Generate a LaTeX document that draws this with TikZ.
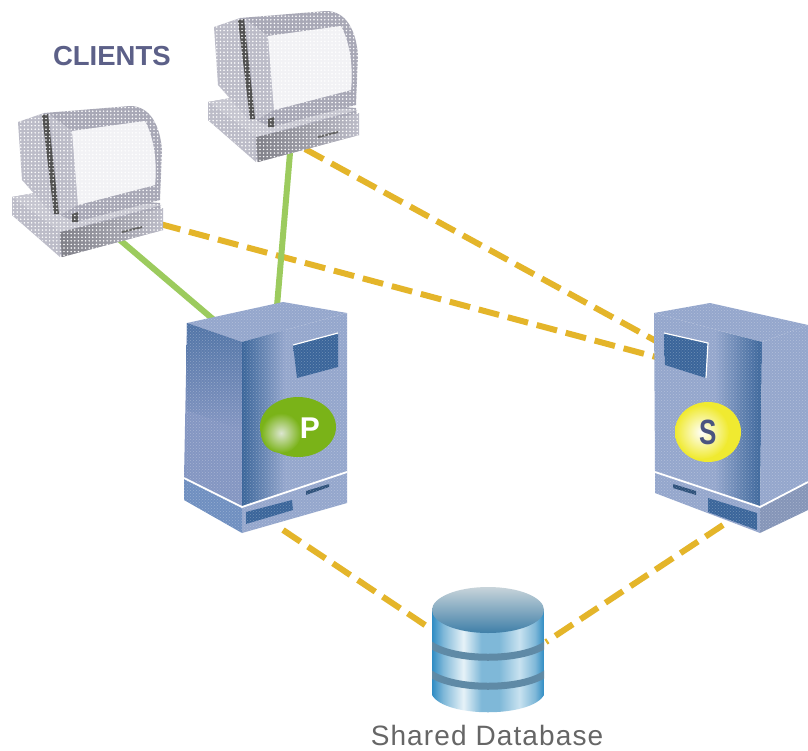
\documentclass[tikz,border=0pt]{standalone}
\usepackage{fontspec}
\setmainfont{Liberation Sans}
\usetikzlibrary{patterns}
\definecolor{dbA}{HTML}{2F8CC4}
\definecolor{dbB}{HTML}{7FB8D8}
\definecolor{dbC}{HTML}{E6F2F8}
\definecolor{dbD}{HTML}{C8E2F0}
\pgfdeclarehorizontalshading{dbbody}{100bp}{
  color(0bp)=(dbA); color(25bp)=(dbA); color(30bp)=(dbB); color(39bp)=(dbC);
  color(47bp)=(dbB); color(55bp)=(dbB); color(64bp)=(dbD); color(71bp)=(dbB); color(75bp)=(dbA); color(100bp)=(dbA)}
\definecolor{dashcol}{HTML}{E4B52A}
\definecolor{greencol}{HTML}{9CCB5E}
\definecolor{pcA}{HTML}{BCBCC8}
\definecolor{pcB}{HTML}{A8A8B6}
\definecolor{pcC}{HTML}{808088}
\definecolor{pcS}{HTML}{F2F2F5}
\definecolor{srvA}{HTML}{8496C2}
\definecolor{srvB}{HTML}{94A6CC}
\definecolor{srvC}{HTML}{3A659A}
\definecolor{srvD}{HTML}{6F8FC0}
\definecolor{capcol}{HTML}{5C6088}
\definecolor{dbband}{HTML}{5F8AA6}
\definecolor{dbtopin}{HTML}{3F7FA8}
\definecolor{dbtopout}{HTML}{C8D4DA}
\definecolor{pgreenout}{HTML}{7AB318}
\definecolor{pgreenin}{HTML}{DCE6D0}
\definecolor{syel}{HTML}{F0EA30}
\definecolor{smark}{HTML}{4A5480}
\tikzset{
  every node/.style={inner sep=0pt,outer sep=0pt},
  softdots/.style={pattern=crosshatch dots,pattern color=white,opacity=.28},
  sharedlink/.style={draw=dashcol,line width=6pt,dash pattern=on 21pt off 9pt},
  directlink/.style={draw=greencol,line width=6pt},
  whiteedge/.style={draw=white,line width=1.8pt},
  captionA/.style={font=\bfseries\fontsize{27.5}{28}\selectfont,text=capcol},
  captionB/.style={font=\addfontfeature{LetterSpace=4}\fontsize{28}{28}\selectfont,text=black!60,anchor=base},
}
\newcommand{\clientbox}{%
  % base
  \fill[pcB] (12,197)--(35,193)--(160,203)--(163,230)--(62,257)--(12,215)--cycle;
  \shade[left color=pcC,right color=pcA] (60,232)--(163,208)--(163,230)--(62,257)--cycle;
  \fill[pcA] (12,197)--(60,232)--(60,257)--(12,215)--cycle;
  \fill[pcA!85!white] (35,193)--(162,205)--(60,232)--(12,197)--cycle;
  % cabinet
  \fill[pcA] (18,122)--(44,113)--(56,218)--(22,180)--cycle;
  \fill[pcB] (44,113)--(130,106) .. controls (150,106) and (160,125) .. (162,150)--(160,200)--(75,222)--(60,215)--cycle;
  \fill[pcA] (72,131)--(145,121) .. controls (155,140) and (157,165) .. (155,185)--(78,205)--(60,215)--(49,114)--cycle;
  \fill[black!68] (42,115)--(48,114)--(59,214)--(54,214)--cycle;
  % screen
  \fill[pcS] (72,131)--(145,121) .. controls (155,140) and (157,165) .. (155,185)--(78,205)--cycle;
  % ports
  \fill[black!60] (122,231)--(142,226)--(142,228)--(122,233)--cycle;
  \fill[black!65] (72,214)--(78,212)--(78,222)--(72,222)--cycle;
  % halftone
  \begin{scope}
    \clip (18,122)--(44,113)--(130,106) .. controls (150,106) and (160,125) .. (162,150)--(162,205)--(163,230)--(62,257)--(12,215)--(12,197)--(35,193)--(22,180)--cycle;
    \fill[white] \foreach \a in {0,...,44}{\foreach \b in {0,...,42}{
       (10+3.6*\a,104+3.6*\b) circle[radius=0.85pt]}};
  \end{scope}
}
\begin{document}
\begin{tikzpicture}[x=1pt,y=-1pt]
\useasboundingbox (0,0) rectangle (808,750);
\fill[white] (0,0) rectangle (808,750);

% connector end points
\coordinate (clientOneShared) at (160,224);
\coordinate (clientTwoShared) at (305,149);
\coordinate (clientOneDirect) at (120,240);
\coordinate (clientTwoDirect) at (290,153);
\coordinate (primaryTopA) at (214,320);
\coordinate (primaryTopB) at (277,306);
\coordinate (secondaryTopA) at (656,357);
\coordinate (secondaryTopB) at (656,341);
\coordinate (primaryBottom) at (283,530);
\coordinate (secondaryBottom) at (723,525);
\coordinate (dbLeft) at (431,629);
\coordinate (dbRight) at (546,642);

% connectors
\draw[sharedlink] (clientOneShared) -- (secondaryTopA);
\draw[sharedlink] (clientTwoShared) -- (secondaryTopB);
\draw[directlink] (clientOneDirect) -- (primaryTopA);
\draw[directlink] (clientTwoDirect) -- (primaryTopB);
\draw[sharedlink] (primaryBottom) -- (dbLeft);
\draw[sharedlink] (secondaryBottom) -- (dbRight);

% clients
\begin{scope}\clientbox\end{scope}
\begin{scope}[shift={(196,-95)}]\clientbox\end{scope}
\node[captionA,anchor=base west] (clientsLabel) at (53,65) {CLIENTS};

% primary server
\begin{scope}
  \fill[srvB] (187,323)--(283,302)--(347,313)--(242,342)--cycle;
  \fill[srvA] (187,323)--(242,342)--(242,507)--(184,478)--cycle;
  \shade[top color=srvC!70!srvA,bottom color=srvA] (187,323)--(242,342)--(242,430)--(186,410)--cycle;
  \fill[srvB] (242,342)--(347,313)--(347,472)--(242,507)--cycle;
  \shade[left color=srvC,right color=srvB] (242,342)--(285,330)--(285,493)--(242,507)--cycle;
  \fill[srvD] (184,478)--(242,507)--(242,533)--(184,500)--cycle;
  \fill[srvB] (242,507)--(347,472)--(347,503)--(242,533)--cycle;
  \draw[whiteedge] (184,478)--(242,507)--(347,472);
  \shade[left color=srvC,middle color=srvD,right color=srvC] (293,345)--(338,333)--(338,367)--(297,378)--cycle;
  \draw[white,line width=1.2pt] (293,345)--(338,333);
  \fill[srvC] (246,512)--(292,500)--(293,510)--(246,524)--cycle;
  \fill[srvC!80!black] (306,491)--(329,484)--(329,487)--(306,495)--cycle;
  \fill[softdots] (187,323)--(283,302)--(347,313)--(347,503)--(242,533)--(184,500)--cycle;
  \fill[pgreenout] (298,427) ellipse[x radius=38pt,y radius=30pt];
  \shade[inner color=pgreenin,outer color=pgreenout] (281,433) ellipse[x radius=20pt,y radius=20pt];
  \node[font=\bfseries\fontsize{30}{30}\selectfont,text=white] (primaryMark) at (310,428) {P};
\end{scope}

% secondary server
\begin{scope}
  \fill[srvB] (654,313)--(710,303)--(808,325)--(762,342)--cycle;
  \fill[srvB] (654,313)--(762,342)--(760,507)--(655,472)--cycle;
  \shade[left color=srvB,right color=srvC] (715,330)--(762,342)--(760,507)--(715,492)--cycle;
  \fill[srvB] (762,342)--(808,325)--(808,482)--(760,507)--cycle;
  \fill[srvB] (655,472)--(760,507)--(760,533)--(655,493)--cycle;
  \fill[srvB!90!black] (760,507)--(808,482)--(808,510)--(760,533)--cycle;
  \draw[whiteedge] (655,472)--(760,507)--(808,482);
  \shade[left color=srvC,middle color=srvD,right color=srvC] (664,333)--(708,343)--(706,378)--(665,365)--cycle;
  \draw[white,line width=1.2pt] (664,333)--(708,343)--(706,378);
  \fill[srvC] (708,498)--(757,513)--(757,530)--(708,512)--cycle;
  \fill[srvC!80!black] (673,484)--(696,491)--(696,495)--(673,488)--cycle;
  \fill[softdots] (654,313)--(710,303)--(808,325)--(808,510)--(760,533)--(655,493)--cycle;
  \fill[syel] (708,432) ellipse[x radius=33pt,y radius=30pt];
  \shade[inner color=white,outer color=syel] (702,432) ellipse[x radius=27pt,y radius=27pt];
  \node[font=\bfseries\fontsize{26}{26}\selectfont,text=smark] (secondaryMark) at (708,432) {\scalebox{1}[1.35]{S}};
\end{scope}

% database
\begin{scope}
  \begin{scope}
    \clip (432,610)--(544,610)--(544,695) .. controls (531,718) and (445,718) .. (432,695)--cycle;
    \shade[shading=dbbody] (432,610) rectangle (544,712);
    \draw[draw=dbband,line width=7pt] (425,640) .. controls (445,663) and (531,663) .. (551,640);
    \draw[draw=dbband,line width=7pt] (425,669) .. controls (445,692) and (531,692) .. (551,669);
  \end{scope}
  \shade[top color=dbtopout,bottom color=dbtopin]
    (488,610) ellipse[x radius=56pt,y radius=23pt];
  \node[captionB] (dbLabel) at (487,745) {Shared Database};
\end{scope}
\end{tikzpicture}
\end{document}
